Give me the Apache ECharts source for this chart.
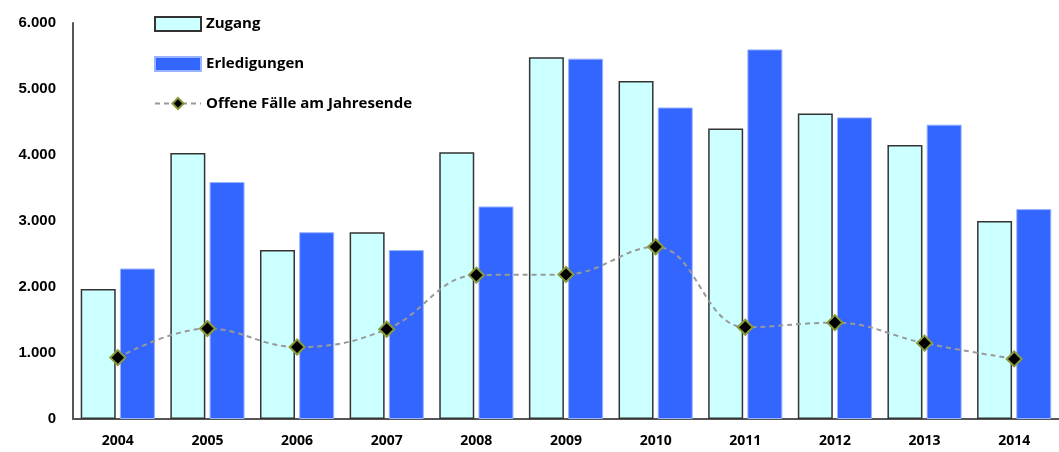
<!DOCTYPE html>
<html><head><meta charset="utf-8">
<script src="https://cdn.jsdelivr.net/npm/echarts@6/dist/echarts.min.js"></script>
<style>html,body{margin:0;padding:0;background:#fff}#c{width:1059px;height:452px}</style>
</head><body><div id="c"></div>
<script>
const years = ['2004','2005','2006','2007','2008','2009','2010','2011','2012','2013','2014'];
const zugang = [1970,4030,2560,2830,4040,5480,5120,4400,4630,4150,3000];
const erledigungen = [2280,3590,2830,2560,3220,5460,4720,5600,4570,4460,3180];
const offene = [930,1370,1090,1360,2180,2190,2610,1390,1460,1150,910];

const fmt = v => String(v).replace(/\B(?=(\d{3})+(?!\d))/g, '.');
const chart = echarts.init(document.getElementById('c'));
chart.setOption({
  animation:false,
  textStyle:{fontFamily:'"Open Sans", "DejaVu Sans", sans-serif'},
  grid:{left:73, top:23, width:989, height:396, containLabel:false},
  legend:{
    orient:'vertical', left:149, top:11, itemGap:24, itemWidth:46, itemHeight:14,
    textStyle:{fontSize:15, fontWeight:'bold', color:'#000', fontFamily:'"Open Sans", sans-serif', padding:[0,0,0,0]},
    data:[{name:'Zugang', icon:'rect'},{name:'Erledigungen', icon:'rect'},'Offene Fälle am Jahresende']
  },
  xAxis:{
    type:'category', data:years,
    axisLine:{lineStyle:{color:'#555', width:2}},
    axisTick:{show:false},
    axisLabel:{fontSize:14, fontWeight:'bold', color:'#000', margin:15, fontFamily:'"Open Sans", sans-serif'}
  },
  yAxis:{
    type:'value', min:0, max:6000, interval:1000,
    axisLine:{show:true, lineStyle:{color:'#555', width:2}},
    axisTick:{show:false},
    splitLine:{show:false},
    axisLabel:{fontSize:15, fontWeight:'bold', color:'#000', margin:17, formatter:fmt, fontFamily:'"Liberation Sans", Arial, sans-serif'}
  },
  series:[
    {name:'Zugang', type:'bar', data:zugang, barWidth:35, barGap:'12%',
     itemStyle:{color:'#ccffff', borderColor:'#333', borderWidth:1.5}},
    {name:'Erledigungen', type:'bar', data:erledigungen, barWidth:35,
     itemStyle:{color:'#3366ff', borderColor:'#99b3ff', borderWidth:1}},
    {name:'Offene Fälle am Jahresende', type:'line', data:offene, smooth:0.4,
     symbol:'diamond', symbolSize:15,
     lineStyle:{color:'#999', width:2, type:[5,4]},
     itemStyle:{color:'#000', borderColor:'#8a9a3a', borderWidth:2}}
  ]
});
</script></body></html>
